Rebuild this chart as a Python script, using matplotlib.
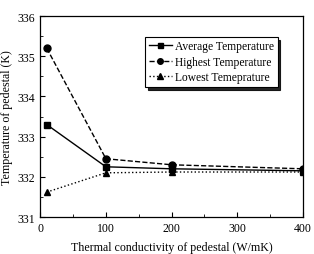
import matplotlib.pyplot as plt
from matplotlib.ticker import MultipleLocator

plt.rcParams['font.family'] = ['Liberation Serif', 'DejaVu Serif']

# data
conductivity = [10, 100, 200, 400]
avg_temp = [333.3, 332.25, 332.2, 332.15]
high_temp = [335.2, 332.45, 332.3, 332.2]
low_temp = [331.62, 332.1, 332.12, 332.12]

fig = plt.figure(figsize=(3.14, 2.55), dpi=100)
ax = fig.add_axes([0.128, 0.145, 0.837, 0.788])

ax.plot(conductivity, avg_temp, '-', color='black', marker='s', ms=4.5, lw=1.0,
        label='Average Temperature')
ax.plot(conductivity, high_temp, '--', color='black', marker='o', ms=5, lw=1.0,
        label='Highest Temperature')
ax.plot(conductivity, low_temp, ':', color='black', marker='^', ms=5, lw=1.0,
        label='Lowest Temeprature')

ax.set_xlim(0, 400)
ax.set_ylim(331, 336)
ax.xaxis.set_major_locator(MultipleLocator(100))
ax.xaxis.set_minor_locator(MultipleLocator(50))
ax.yaxis.set_major_locator(MultipleLocator(1))
ax.yaxis.set_minor_locator(MultipleLocator(0.5))
ax.tick_params(which='both', direction='in', labelsize=8.5, top=False, right=False)
ax.tick_params(which='major', length=3.5)
ax.tick_params(which='minor', length=2)

for s in ax.spines.values():
    s.set_linewidth(0.9)

ax.set_xlabel('Thermal conductivity of pedestal (W/mK)', fontsize=8.6, labelpad=5)
ax.set_ylabel('Temperature of pedestal (K)', fontsize=8.6, labelpad=3)

leg = ax.legend(loc='upper right', bbox_to_anchor=(0.925, 0.925), fontsize=8.3,
                fancybox=False, shadow={'color': 'black', 'alpha': 0.85, 'ox': 2, 'oy': -2},
                edgecolor='black', framealpha=1, markerscale=0.8,
                handlelength=2.0, borderpad=0.3, labelspacing=0.3, handletextpad=0.3)
leg.get_frame().set_linewidth(0.8)

fig.savefig('out.png', dpi=100)
